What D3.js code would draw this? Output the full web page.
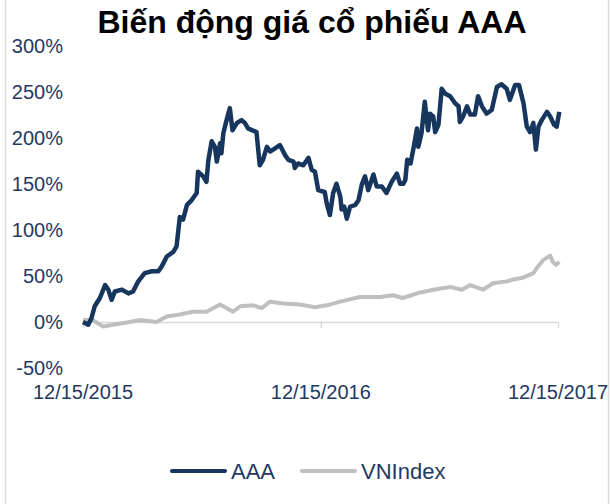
<!DOCTYPE html>
<html>
<head>
<meta charset="utf-8">
<script src="https://cdn.jsdelivr.net/npm/d3@7"></script>
<style>
  body { margin: 0; background: #fff; }
  svg { display: block; font-family: Arial, "Liberation Sans", sans-serif; }
</style>
</head>
<body>
<div class="chart"></div>
<script>
// days since 12/15/2015
var aaaDays = [0, 8, 13, 18, 26, 34, 39, 44, 49, 60, 70, 77, 85, 95, 106, 116, 121, 129, 139, 144,
  149, 154, 160, 167, 175, 177, 185, 190, 193, 198, 203, 206, 211, 213, 216, 221, 226, 230, 237, 244,
  249, 254, 267, 272, 277, 283, 288, 295, 303, 311, 316, 324, 326, 331, 339, 347, 352, 357, 362, 372,
  375, 380, 385, 390, 396, 398, 402, 406, 411, 419, 424, 429, 434, 439, 447, 452, 460, 467, 475, 483,
  488, 493, 496, 499, 504, 509, 514, 516, 521, 526, 531, 534, 539, 542, 547, 552, 557, 565, 573, 578,
  580, 585, 591, 596, 603, 608, 614, 621, 629, 637, 644, 652, 657, 665, 671, 678, 683, 688, 693, 697,
  701, 706, 714, 719, 725, 729, 733];
var aaaValues = [0, -3, 4, 17, 26, 40, 35, 24, 33, 35, 31, 33, 44, 53, 55, 55, 60, 71, 76, 82,
  114, 111, 127, 132, 140, 163, 158, 152, 176, 196, 190, 174, 194, 183, 205, 219, 232, 208, 216, 219,
  216, 210, 206, 170, 176, 190, 185, 188, 192, 181, 176, 174, 167, 172, 170, 178, 165, 163, 143, 141,
  129, 116, 140, 150, 136, 122, 125, 112, 125, 127, 132, 149, 158, 143, 160, 147, 147, 140, 152, 161,
  150, 150, 154, 176, 172, 190, 210, 190, 205, 239, 208, 226, 223, 206, 214, 253, 248, 245, 237, 234,
  217, 223, 234, 225, 225, 245, 234, 226, 230, 255, 258, 253, 241, 257, 257, 237, 212, 206, 216, 187,
  212, 219, 228, 223, 214, 212, 228];

var vniDays = [0, 15, 31, 46, 72, 88, 113, 129, 149, 169, 190, 211, 231, 242, 262, 275, 288, 308, 334, 357,
  375, 396, 426, 457, 477, 492, 519, 539, 565, 583, 596, 616, 631, 652, 662, 677, 693, 700, 708, 719,
  723, 728, 733];
var vniValues = [2, 2, -5, -3, 0, 2, 0, 6, 8, 11, 11, 19, 11, 17, 18, 15, 22, 20, 19, 16,
  18, 22, 27, 27, 29, 26, 32, 35, 38, 35, 40, 35, 42, 44, 46, 48, 53, 60, 67, 72,
  65, 62, 65];

var yTicks = [300, 250, 200, 150, 100, 50, 0, -50];
var xTickDays = [0, 366, 731];
var xTickLabels = ['12/15/2015', '12/15/2016', '12/15/2017'];
var seriesNames = ['AAA', 'VNIndex'];
var seriesColors = ['#17365D', '#BFBFBF'];

var W = 610, H = 504;
var x = d3.scaleLinear().domain([0, 731]).range([83, 558]);
var y = d3.scaleLinear().domain([-50, 300]).range([368, 45.5]);

var svg = d3.select('.chart')
  .append('svg')
    .attr('width', W)
    .attr('height', H);

// frame lines left and right
svg.append('line').attr('x1', 5.5).attr('x2', 5.5).attr('y1', 0).attr('y2', H)
  .attr('stroke', '#D9D9D9').attr('stroke-width', 1.5);
svg.append('line').attr('x1', 608.5).attr('x2', 608.5).attr('y1', 0).attr('y2', H)
  .attr('stroke', '#D9D9D9').attr('stroke-width', 1.5);

svg.append('text')
  .attr('x', 312)
  .attr('y', 33)
  .attr('text-anchor', 'middle')
  .attr('font-size', 32)
  .attr('font-weight', 'bold')
  .attr('fill', '#000')
  .text('Biến động giá cổ phiếu AAA');

// y labels, no axis line
svg.selectAll('.ylab')
  .data(yTicks)
  .enter()
  .append('text')
    .attr('class', 'ylab')
    .attr('x', 63)
    .attr('y', d => y(d))
    .attr('dy', '0.36em')
    .attr('text-anchor', 'end')
    .attr('font-size', 20)
    .attr('fill', '#1F3864')
    .text(d => d + '%');

// x axis on the 0% line
var xAxis = svg.append('g')
  .attr('transform', 'translate(0,' + y(0) + ')')
  .call(d3.axisBottom(x).tickValues(xTickDays).tickSize(6).tickSizeOuter(0).tickFormat(''));
xAxis.selectAll('path, line').attr('stroke', '#D9D9D9').attr('stroke-width', 1.5);

svg.selectAll('.xlab')
  .data(xTickDays)
  .enter()
  .append('text')
    .attr('class', 'xlab')
    .attr('x', d => x(d))
    .attr('y', 399)
    .attr('text-anchor', 'middle')
    .attr('font-size', 20)
    .attr('fill', '#1F3864')
    .text((d, i) => xTickLabels[i]);

var line = d3.line()
  .x(d => x(d[0]))
  .y(d => y(d[1]));

svg.append('path')
  .datum(vniDays.map((d, i) => [d, vniValues[i]]))
  .attr('d', line)
  .attr('fill', 'none')
  .attr('stroke', seriesColors[1])
  .attr('stroke-width', 4)
  .attr('stroke-linejoin', 'round');

svg.append('path')
  .datum(aaaDays.map((d, i) => [d, aaaValues[i]]))
  .attr('d', line)
  .attr('fill', 'none')
  .attr('stroke', seriesColors[0])
  .attr('stroke-width', 4.5)
  .attr('stroke-linejoin', 'round');

// legend
var legend = svg.selectAll('.legend')
  .data(seriesNames)
  .enter()
  .append('g')
    .attr('class', 'legend')
    .attr('transform', (d, i) => 'translate(' + (172 + i * 130) + ',471)');

legend.append('line')
  .attr('x1', 0).attr('x2', 53)
  .attr('stroke', (d, i) => seriesColors[i])
  .attr('stroke-width', 4)
  .attr('stroke-linecap', 'round');

legend.append('text')
  .attr('x', 59)
  .attr('y', 8)
  .attr('font-size', 22)
  .attr('fill', '#1F3864')
  .text(d => d);
</script>
</body>
</html>
